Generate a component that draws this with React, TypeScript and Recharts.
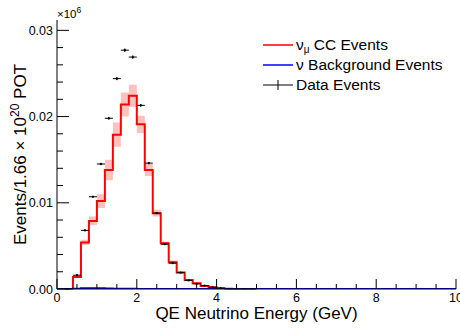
import { ComposedChart, Line, Area, Scatter, ErrorBar, XAxis, YAxis } from 'recharts';

const FONT = '"Liberation Sans", Arial, Helvetica, sans-serif';

// 0.2 GeV bins, value = events (x10^6)
const binStart = [0.0, 0.2, 0.4, 0.6, 0.8, 1.0, 1.2, 1.4, 1.6, 1.8, 2.0, 2.2, 2.4, 2.6, 2.8, 3.0, 3.2, 3.4, 3.6, 3.8, 4.0, 4.2, 4.4, 4.6, 4.8];
const mcSignal = [0, 0, 0.0014, 0.0054, 0.0079, 0.0102, 0.0138, 0.0179, 0.0214, 0.0224, 0.0191, 0.0138, 0.0088, 0.0053, 0.0031, 0.0019, 0.00105, 0.00066, 0.00035, 0.0002, 0.0001, 0.00004, 0, 0, 0];
const mcSignalErr = [0, 0, 0.0001, 0.0003, 0.0005, 0.0008, 0.0012, 0.0014, 0.0014, 0.0013, 0.001, 0.0007, 0.0004, 0.0002, 0.0002, 0.0001, 0.0001, 0.00005, 0.00005, 0, 0, 0, 0, 0, 0];
const mcBackground = [0, 0, 0.00003, 0.0001, 0.0001, 0.0001, 0.00007, 0.00004, 0.00003, 0.00002, 0.00001, 0, 0, 0, 0, 0, 0, 0, 0, 0, 0, 0, 0, 0, 0];
const mcBackgroundErr = [0, 0, 0.00002, 0.00006, 0.00006, 0.00005, 0.00004, 0.00002, 0.00001, 0, 0, 0, 0, 0, 0, 0, 0, 0, 0, 0, 0, 0, 0, 0, 0];
const dataEvents = [null, 0, 0.0016, 0.0068, 0.0107, 0.0145, 0.0198, 0.0244, 0.0277, 0.0269, 0.0213, 0.0146, 0.0088, 0.0052, 0.003, 0.0019, 0.001, 0.0006, 0.0004, 0.0002, 0.0001, 0, 0, 0, 0];
const dataErr = [0, 0, 0.00005, 0.0001, 0.00012, 0.00014, 0.00016, 0.00018, 0.0002, 0.0002, 0.00016, 0.00014, 0.0001, 0.00008, 0.00006, 0.00005, 0.00004, 0.00003, 0.00002, 0.00002, 0.00001, 0, 0, 0, 0];
const halfBin = 0.1;
const histEnd = [5.0, 10.0];

const xTicks = [0, 0.5, 1, 1.5, 2, 2.5, 3, 3.5, 4, 4.5, 5, 5.5, 6, 6.5, 7, 7.5, 8, 8.5, 9, 9.5, 10];
const xMajor = [0, 2, 4, 6, 8, 10];
const yTicks = [0, 0.002, 0.004, 0.006, 0.008, 0.01, 0.012, 0.014, 0.016, 0.018, 0.02, 0.022, 0.024, 0.026, 0.028, 0.03];
const yMajor = [0, 0.01, 0.02, 0.03];

const legendItems = [
  { key: 'sig', color: '#ff0000' },
  { key: 'bkg', color: '#0000ff' },
  { key: 'data', color: '#000000' },
];

const mcRows = binStart
  .map((x, i) => ({
    x,
    mc: mcSignal[i],
    band: [mcSignal[i] - mcSignalErr[i], mcSignal[i] + mcSignalErr[i]],
    bkg: mcBackground[i],
    bkgBand: [mcBackground[i], mcBackground[i] + mcBackgroundErr[i]],
  }))
  .concat(histEnd.map((x) => ({ x, mc: 0, band: [0, 0], bkg: 0, bkgBand: [0, 0] })));

const dataRows = binStart
  .map((x, i) => ({ x: x + halfBin, y: dataEvents[i], xe: halfBin, ye: dataErr[i] }))
  .filter((d) => d.y !== null);

const isMajor = (v: number, majors: number[]) => majors.some((m) => Math.abs(m - v) < 1e-9);

const BottomTick = (props: any) => {
  const { x, y, payload } = props;
  const major = isMajor(payload.value, xMajor);
  return (
    <g>
      <line x1={x} x2={x} y1={y} y2={y - (major ? 10 : 5)} stroke="#000" strokeWidth={1} />
      {major && (
        <text x={x} y={y + 12.5} textAnchor="middle" fontSize={12.5} fontFamily={FONT} fill="#000">
          {payload.value}
        </text>
      )}
    </g>
  );
};

const TopTick = (props: any) => {
  const { x, y, payload } = props;
  const major = isMajor(payload.value, xMajor);
  return <line x1={x} x2={x} y1={y} y2={y + (major ? 10 : 5)} stroke="#000" strokeWidth={1} />;
};

const LeftTick = (props: any) => {
  const { x, y, payload } = props;
  const major = isMajor(payload.value, yMajor);
  const ax = x + 4;
  return (
    <g>
      <line x1={ax} x2={ax + (major ? 12 : 6)} y1={y} y2={y} stroke="#000" strokeWidth={1} />
      {major && (
        <text x={x} y={y + 4.5} textAnchor="end" fontSize={12.5} fontFamily={FONT} fill="#000">
          {payload.value.toFixed(2)}
        </text>
      )}
    </g>
  );
};

const RightTick = (props: any) => {
  const { x, y, payload } = props;
  const major = isMajor(payload.value, yMajor);
  return <line x1={x} x2={x - (major ? 12 : 6)} y1={y} y2={y} stroke="#000" strokeWidth={1} />;
};

const YTitle = (props: any) => {
  const vb = props.viewBox;
  const cy = vb.y + vb.height / 2;
  return (
    <g fontFamily={FONT} fill="#000">
      <text transform={`translate(${vb.x + 26},${cy}) rotate(-90)`} textAnchor="middle" fontSize={17}>
        Events/1.66 × 10<tspan dy={-7} fontSize={12}>20</tspan>
        <tspan dy={7}> POT</tspan>
      </text>
      <text x={vb.x + vb.width} y={vb.y - 2} fontSize={11.5}>
        ×10<tspan dy={-5} fontSize={8.5}>6</tspan>
      </text>
    </g>
  );
};

const XTitle = (props: any) => {
  const vb = props.viewBox;
  return (
    <text x={vb.x + vb.width / 2} y={vb.y + 30} textAnchor="middle" fontSize={17} fontFamily={FONT} fill="#000">
      QE Neutrino Energy (GeV)
    </text>
  );
};

const DataDot = (props: any) => <circle cx={props.cx} cy={props.cy} r={1.1} fill="#000" />;

export default function App() {
  return (
    <div style={{ position: 'absolute', left: 0, top: 0, width: 460, height: 329, background: '#fff' }}>
      <ComposedChart width={460} height={329} margin={{ top: 20, right: 4, bottom: 0, left: 0 }}>
        <XAxis
          xAxisId="b"
          dataKey="x"
          type="number"
          domain={[0, 10]}
          allowDataOverflow
          ticks={xTicks}
          interval={0}
          height={40}
          tickSize={0}
          tickMargin={0}
          tick={<BottomTick />}
          axisLine={{ stroke: '#000' }}
          label={{ content: <XTitle /> }}
        />
        <XAxis
          xAxisId="t"
          orientation="top"
          type="number"
          domain={[0, 10]}
          allowDataOverflow
          ticks={xTicks}
          interval={0}
          height={0}
          tickSize={0}
          tickMargin={0}
          tick={<TopTick />}
          axisLine={{ stroke: '#000' }}
        />
        <YAxis
          yAxisId="l"
          type="number"
          domain={[0, 0.0312]}
          allowDataOverflow
          ticks={yTicks}
          interval={0}
          width={57}
          tickSize={0}
          tickMargin={4}
          tick={<LeftTick />}
          axisLine={{ stroke: '#000' }}
          label={{ content: <YTitle /> }}
        />
        <YAxis
          yAxisId="r"
          orientation="right"
          type="number"
          domain={[0, 0.0312]}
          allowDataOverflow
          ticks={yTicks}
          interval={0}
          width={0}
          tickSize={0}
          tickMargin={0}
          tick={<RightTick />}
          axisLine={{ stroke: '#000' }}
        />
        <Area
          xAxisId="b"
          yAxisId="l"
          data={mcRows}
          dataKey="band"
          type="stepAfter"
          stroke="none"
          fill="#ffc0c0"
          fillOpacity={1}
          isAnimationActive={false}
        />
        <Area
          xAxisId="b"
          yAxisId="l"
          data={mcRows}
          dataKey="bkgBand"
          type="stepAfter"
          stroke="none"
          fill="#b8b8ff"
          fillOpacity={1}
          isAnimationActive={false}
        />
        <Line
          xAxisId="b"
          yAxisId="l"
          data={mcRows}
          dataKey="mc"
          type="stepAfter"
          stroke="#ff0000"
          strokeWidth={2}
          dot={false}
          isAnimationActive={false}
        />
        <Line
          xAxisId="b"
          yAxisId="l"
          data={mcRows}
          dataKey="bkg"
          type="stepAfter"
          stroke="#0000ff"
          strokeWidth={2}
          dot={false}
          isAnimationActive={false}
        />
        <Scatter
          xAxisId="b"
          yAxisId="l"
          data={dataRows}
          dataKey="y"
          shape={<DataDot />}
          isAnimationActive={false}
        >
          <ErrorBar dataKey="xe" direction="x" width={0} stroke="#000" strokeWidth={1} isAnimationActive={false} />
          <ErrorBar dataKey="ye" direction="y" width={0} stroke="#000" strokeWidth={1} isAnimationActive={false} />
        </Scatter>
      </ComposedChart>
      <div style={{ position: 'absolute', left: 263, top: 35, fontFamily: FONT, fontSize: 15.5, color: '#000' }}>
        {legendItems.map((it) => (
          <div key={it.key} style={{ display: 'flex', alignItems: 'center', height: 20 }}>
            <svg width={30} height={12} style={{ marginRight: 3 }}>
              <line x1={0} x2={30} y1={6} y2={6} stroke={it.color} strokeWidth={it.key === 'data' ? 1 : 1.5} />
              {it.key === 'data' && <line x1={15} x2={15} y1={1} y2={11} stroke="#000" strokeWidth={1} />}
            </svg>
            <span style={{ whiteSpace: 'nowrap' }}>
              {it.key === 'sig' && (
                <>
                  ν<sub style={{ fontSize: 10, verticalAlign: -3 }}>μ</sub> CC Events
                </>
              )}
              {it.key === 'bkg' && <>ν Background Events</>}
              {it.key === 'data' && <>Data Events</>}
            </span>
          </div>
        ))}
      </div>
    </div>
  );
}
